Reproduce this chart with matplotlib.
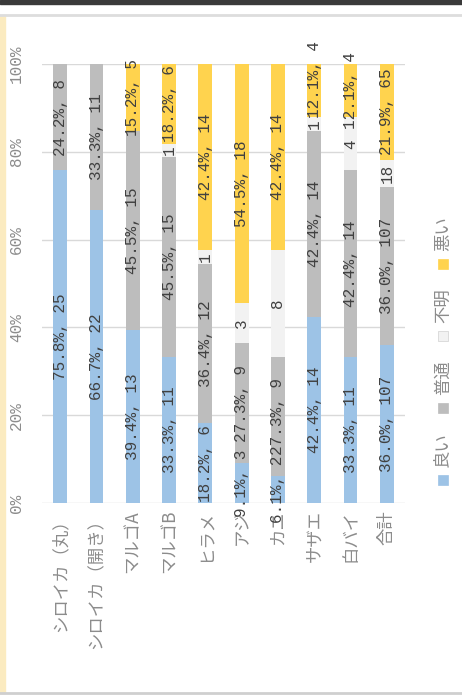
import numpy as np
import matplotlib
matplotlib.use('Agg')
import matplotlib.pyplot as plt
from matplotlib.patches import Rectangle
from matplotlib.lines import Line2D

plt.rcParams['font.family'] = ['Liberation Mono', 'Noto Sans CJK JP']

categories = ['シロイカ（丸）', 'シロイカ（開き）', 'マルゴA', 'マルゴB', 'ヒラメ',
              'アジ', 'カニ', 'サザエ', '白バイ', '合計']
series_names = ['良い', '普通', '不明', '悪い']
good = [25, 22, 13, 11, 6, 3, 2, 14, 11, 107]
normal = [8, 11, 15, 15, 12, 9, 9, 14, 14, 107]
unknown = [0, 0, 0, 1, 1, 3, 8, 1, 4, 18]
bad = [0, 0, 5, 6, 14, 18, 14, 4, 4, 65]
y_ticks = [0, 20, 40, 60, 80, 100]

colors = ['#9DC3E6', '#BDBDBD', '#F2F2F2', '#FFD34E']
counts = [np.array(good), np.array(normal), np.array(unknown), np.array(bad)]
totals = sum(counts)

W, H = 462, 696
fig = plt.figure(figsize=(W / 100, H / 100), dpi=100)
ax = fig.add_axes([42 / W, 1 - 503 / H, (405 - 42) / W, (503 - 64) / H])

x = np.arange(len(categories))
bottom = np.zeros(len(categories))
label_sets = []
for name, vals, color in zip(series_names, counts, colors):
    pct = vals / totals * 100
    bars = ax.bar(x, pct, 0.38, bottom=bottom, color=color, zorder=2)
    if name == '不明':
        labels = [str(v) if v > 0 else '' for v in vals]
    else:
        labels = ['%.1f%%, %d' % (p, v) if v > 0 else '' for p, v in zip(pct, vals)]
    label_sets.append(ax.bar_label(bars, labels=labels, label_type='center', rotation=90,
                                   fontsize=11.5, color='#404040', zorder=3))
    bottom += pct

ax.set_xlim(-0.5, len(categories) - 0.5)
ax.set_ylim(0, 100)
ax.set_yticks(y_ticks)
ax.set_yticklabels(['%d%%' % v for v in y_ticks], rotation=90, va='center',
                   fontsize=11.5, color='#8c8c8c')
ax.set_xticks(x)
ax.set_xticklabels(categories, rotation=90, va='top', ha='center',
                   fontsize=12.5, color='#8c8c8c', family=['Noto Sans CJK JP'])
ax.tick_params(axis='both', length=0)
ax.tick_params(axis='y', pad=13)
ax.tick_params(axis='x', pad=5)
ax.grid(axis='y', color='#D9D9D9', lw=1, zorder=0)
for s in ax.spines.values():
    s.set_visible(False)

# push a label up when it runs into the one below it in the same bar
fig.canvas.draw()
r = fig.canvas.get_renderer()
for k in range(len(categories)):
    prev = None
    for labs in label_sets:
        t = labs[k]
        if not t.get_text():
            continue
        bb = t.get_window_extent(r)
        if prev is not None and bb.y0 < prev.y1 - 3:
            dy = prev.y1 - bb.y0 + 1
            t.xyann = (0, dy * 72 / fig.dpi)
            bb = t.get_window_extent(r)
        prev = bb

# legend drawn by hand, rotated like the rest of the chart
for i, (name, color) in enumerate(zip(series_names, colors)):
    c = 480 - i * 72
    fig.add_artist(Rectangle((438 / W, 1 - (c + 5) / H), 10 / W, 10 / H,
                             transform=fig.transFigure, color=color,
                             ec='#d0d0d0' if name == '不明' else color, lw=0.5))
    fig.text(443 / W, 1 - (c - 13) / H, name, rotation=90, ha='center',
             va='bottom', fontsize=12.5, color='#8c8c8c', family=['Noto Sans CJK JP'])

# frame of the photographed sheet
fig.add_artist(Rectangle((0, 1 - 4 / H), 1, 4 / H, transform=fig.transFigure,
                         color='#3a3a3a'))
fig.add_artist(Line2D([0, 1], [1 - 15 / H, 1 - 15 / H], transform=fig.transFigure,
                      color='#DDDDDD', lw=2))
fig.add_artist(Rectangle((0, 3 / H), 5 / W, 1 - 19 / H, transform=fig.transFigure,
                         color='#FBEBC0'))
fig.add_artist(Line2D([0, 1], [3 / H, 3 / H], transform=fig.transFigure,
                      color='#CFCFCF', lw=2))

fig.savefig('out.png', dpi=100)
